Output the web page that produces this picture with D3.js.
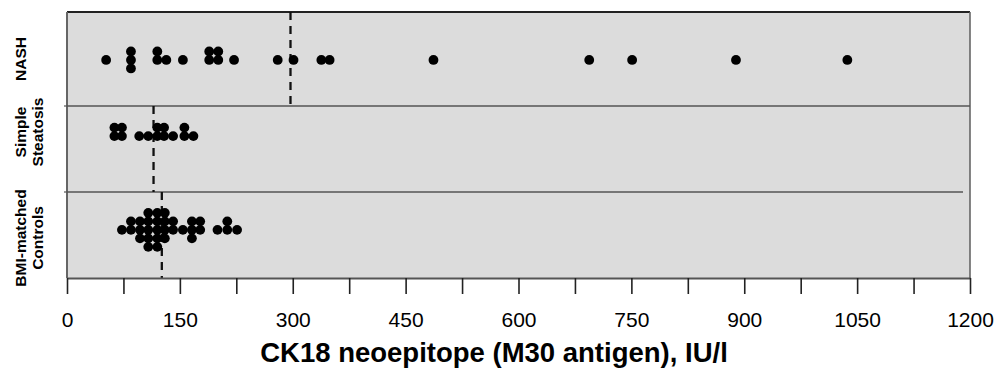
<!DOCTYPE html>
<html>
<head>
<meta charset="utf-8">
<script src="https://cdn.jsdelivr.net/npm/d3@7"></script>
<style>
  html, body { margin: 0; padding: 0; background: #ffffff; }
  svg { display: block; }
</style>
</head>
<body>
<svg id="chart" width="1005" height="369"></svg>
<script>
// ---------------- data ----------------
const groups = ["NASH", "Simple Steatosis", "BMI-matched Controls"];
const groupLabelLines = [["NASH"], ["Simple", "Steatosis"], ["BMI-matched", "Controls"]];
const nashValues = [52, 85, 85, 85, 120, 120, 132, 154, 189, 189, 201, 201, 222,
                    280, 301, 338, 349, 487, 694, 751, 889, 1037];
const steatosisValues = [63, 63, 73, 73, 96, 108, 120, 120, 129, 129, 141, 156, 156, 168];
const controlValues = [73, 85, 85, 97, 97, 97, 108, 108, 108, 108, 108,
                       120, 120, 120, 120, 120, 130, 130, 130, 130, 141, 141,
                       154, 166, 166, 166, 177, 177, 200, 213, 213, 226];
const medianValues = [297, 115, 126];
const tickValues = [0, 75, 150, 225, 300, 375, 450, 525, 600, 675, 750, 825, 900, 975, 1050, 1125, 1200];
const xTitle = "CK18 neoepitope (M30 antigen), IU/l";

const seriesValues = [nashValues, steatosisValues, controlValues];

// ---------------- layout ----------------
const left = 67, right = 970;
const panelEdges = [12, 106, 192, 278];
const baselineFrac = [0.51, 0.35, 0.44];
const dotR = 4.9, dotStep = 8.5;

const svg = d3.select("#chart");
const x = d3.scaleLinear().domain([0, 1200]).range([left, right]);

// panel background
svg.append("rect")
  .attr("x", left).attr("y", panelEdges[0])
  .attr("width", right - left).attr("height", panelEdges[3] - panelEdges[0])
  .attr("fill", "#dcdcdc");

// panel borders
svg.append("line").attr("x1", left).attr("x2", right).attr("y1", panelEdges[0]).attr("y2", panelEdges[0])
  .attr("stroke", "#222").attr("stroke-width", 1.8);
svg.append("line").attr("x1", left).attr("x2", left).attr("y1", panelEdges[0]).attr("y2", panelEdges[3])
  .attr("stroke", "#666").attr("stroke-width", 2);
svg.append("line").attr("x1", right).attr("x2", right).attr("y1", panelEdges[0]).attr("y2", panelEdges[3])
  .attr("stroke", "#666").attr("stroke-width", 1.6);
svg.append("line").attr("x1", left).attr("x2", right).attr("y1", panelEdges[1]).attr("y2", panelEdges[1])
  .attr("stroke", "#555").attr("stroke-width", 1.6);
svg.append("line").attr("x1", left).attr("x2", right - 7).attr("y1", panelEdges[2]).attr("y2", panelEdges[2])
  .attr("stroke", "#555").attr("stroke-width", 1.6);
// small left ticks at panel boundaries
[panelEdges[1], panelEdges[2]].forEach(yy => {
  svg.append("line").attr("x1", left - 3).attr("x2", left).attr("y1", yy).attr("y2", yy)
    .attr("stroke", "#555").attr("stroke-width", 1.2);
});

// median dashed lines
groups.forEach((g, i) => {
  svg.append("line")
    .attr("x1", x(medianValues[i])).attr("x2", x(medianValues[i]))
    .attr("y1", panelEdges[i]).attr("y2", panelEdges[i + 1])
    .attr("stroke", "#111").attr("stroke-width", 2.3)
    .attr("stroke-dasharray", "8,6");
});

// dots: stack identical values in columns (center, up, down, up, down...)
groups.forEach((g, i) => {
  const base = panelEdges[i] + baselineFrac[i] * (panelEdges[i + 1] - panelEdges[i]);
  const counts = new Map();
  const pts = seriesValues[i].map(v => {
    const k = counts.get(v) || 0;
    counts.set(v, k + 1);
    const off = k === 0 ? 0 : (k % 2 === 1 ? -Math.ceil(k / 2) : Math.ceil(k / 2));
    return { v, y: base + off * dotStep };
  });
  svg.append("g").selectAll("circle").data(pts).join("circle")
    .attr("cx", d => x(d.v)).attr("cy", d => d.y).attr("r", dotR)
    .attr("fill", "#000");
});

// x axis
const axis = d3.axisBottom(x)
  .tickValues(tickValues)
  .tickSize(16).tickSizeOuter(0)
  .tickFormat(d => d % 150 === 0 ? String(d) : "");
const ax = svg.append("g").attr("transform", `translate(0,${panelEdges[3]})`).call(axis);
ax.select(".domain").attr("stroke", "#555").attr("stroke-width", 2);
ax.selectAll(".tick line").attr("stroke", "#222").attr("stroke-width", 1.6);
ax.selectAll(".tick text")
  .attr("y", 49).attr("dy", 0)
  .attr("fill", "#000")
  .style("font-family", "'Liberation Sans Narrow', 'Arial Narrow', 'Liberation Sans', Arial, sans-serif")
  .style("font-size", "21px");

// x title
svg.append("text")
  .attr("x", 494).attr("y", 362)
  .attr("text-anchor", "middle")
  .style("font-family", "'Liberation Sans', Arial, sans-serif")
  .style("font-weight", "bold")
  .style("font-size", "27.5px")
  .attr("fill", "#000")
  .text(xTitle);

// group labels (rotated)
const labelCenters = [59, 132, 238];
groups.forEach((g, i) => {
  const lines = groupLabelLines[i];
  const t = svg.append("text")
    .attr("transform", `translate(0,${labelCenters[i]}) rotate(-90)`)
    .attr("text-anchor", "middle")
    .style("font-family", "'Liberation Sans', Arial, sans-serif")
    .style("font-weight", "bold")
    .style("font-size", "15.5px")
    .attr("fill", "#000");
  lines.forEach((ln, j) => {
    t.append("tspan").attr("x", 0).attr("y", 26 + j * 17).text(ln);
  });
});
</script>
</body>
</html>
